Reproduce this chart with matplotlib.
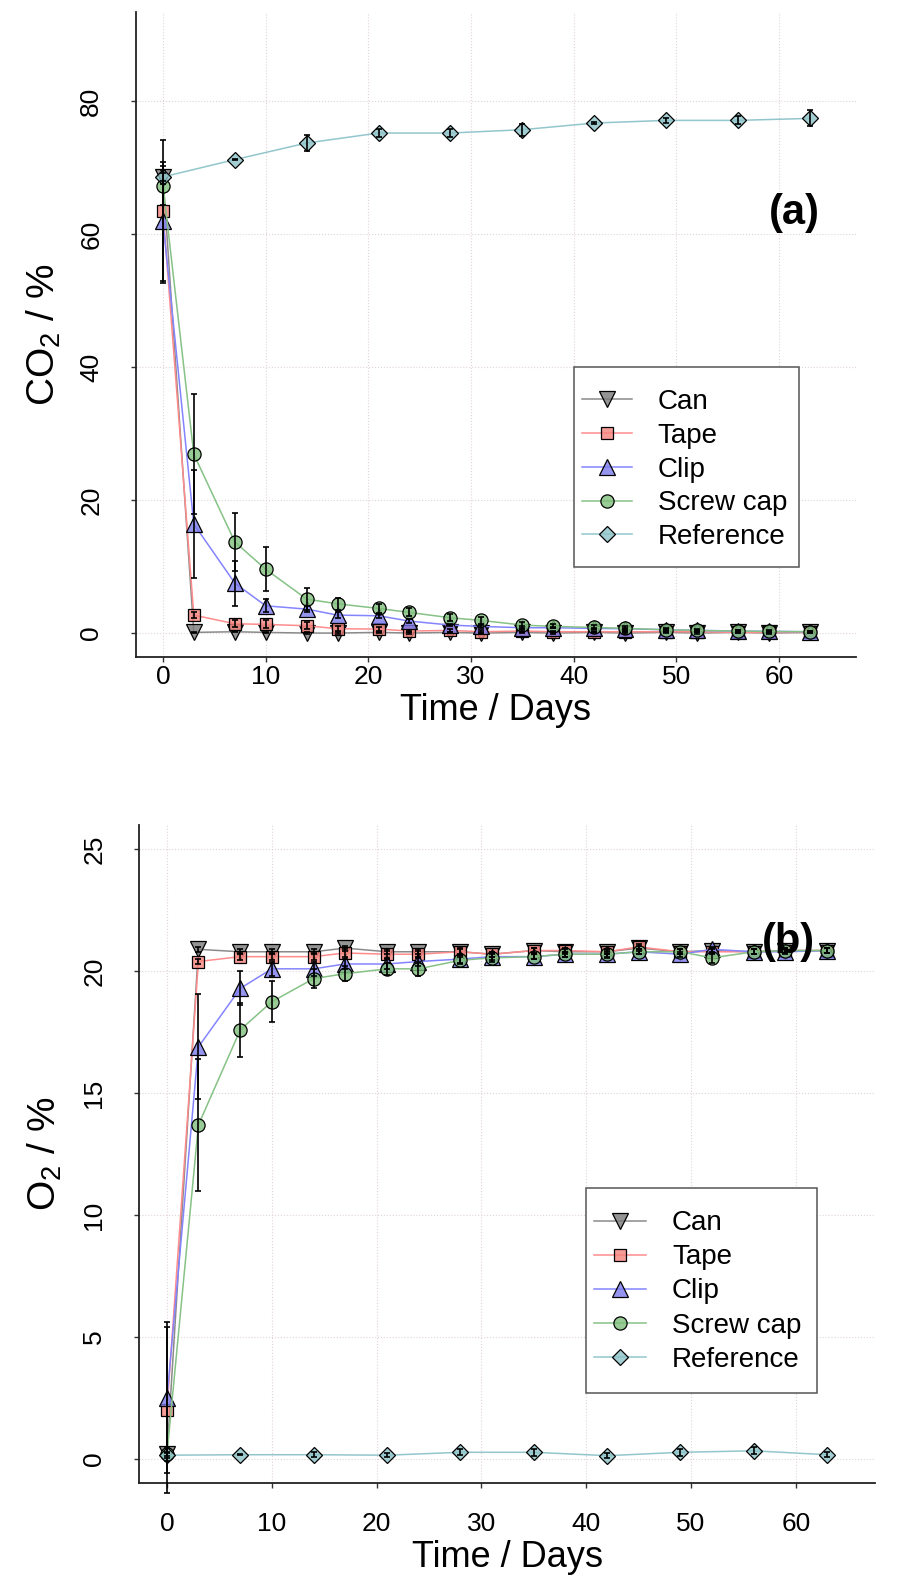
import matplotlib
matplotlib.use('Agg')
import matplotlib.pyplot as plt
import matplotlib.colors as mcolors
from matplotlib.lines import Line2D
from matplotlib.patches import Rectangle
import numpy as np

plt.rcParams['font.family'] = ['Liberation Sans', 'DejaVu Sans']
plt.rcParams['mathtext.fontset'] = 'custom'
plt.rcParams['mathtext.rm'] = 'Liberation Sans'
plt.rcParams['mathtext.it'] = 'Liberation Sans:italic'

# sampling days
days = [0, 3, 7, 10, 14, 17, 21, 24, 28, 31, 35, 38, 42, 45, 49, 52, 56, 59, 63]
ref_days = [0, 7, 14, 21, 28, 35, 42, 49, 56, 63]

labels = ['Can', 'Tape', 'Clip', 'Screw cap', 'Reference']

# (a) CO2 / %
can_co2 = [68.6, 0.1, 0.2, 0.1, 0.0, 0.0, 0.1, 0.0, 0.1, 0.0, 0.1, 0.0, 0.1, 0.0, 0.1, 0.0, 0.1, 0.0, 0.1]
can_co2_err = [1.0, 0.1, 0.1, 0.1, 0.1, 0.1, 0.1, 0.1, 0.1, 0.1, 0.1, 0.1, 0.1, 0.1, 0.1, 0.1, 0.1, 0.1, 0.1]
tape_co2 = [63.4, 2.7, 1.4, 1.3, 1.1, 0.65, 0.6, 0.3, 0.4, 0.2, 0.3, 0.2, 0.2, 0.2, 0.2, 0.2, 0.1, 0.1, 0.1]
tape_co2_err = [10.8, 0.5, 0.5, 0.6, 0.5, 0.4, 0.3, 0.2, 0.2, 0.2, 0.2, 0.1, 0.1, 0.1, 0.1, 0.1, 0.1, 0.1, 0.1]
clip_co2 = [61.9, 16.4, 7.5, 4.1, 3.6, 2.7, 2.6, 1.8, 1.2, 1.0, 0.8, 0.8, 0.7, 0.65, 0.5, 0.4, 0.3, 0.25, 0.2]
clip_co2_err = [9.0, 8.1, 3.4, 1.0, 0.5, 0.4, 0.3, 0.3, 0.2, 0.2, 0.2, 0.1, 0.1, 0.1, 0.1, 0.1, 0.1, 0.1, 0.1]
screw_co2 = [67.3, 26.9, 13.7, 9.6, 5.1, 4.4, 3.7, 3.1, 2.3, 1.9, 1.2, 1.0, 0.85, 0.7, 0.5, 0.4, 0.3, 0.25, 0.2]
screw_co2_err = [2.9, 9.0, 4.4, 3.3, 1.7, 0.9, 0.7, 0.6, 0.5, 0.5, 0.4, 0.3, 0.3, 0.3, 0.2, 0.2, 0.2, 0.2, 0.1]
ref_co2 = [68.6, 71.2, 73.7, 75.2, 75.2, 75.7, 76.7, 77.1, 77.1, 77.4]
ref_co2_err = [0.6, 0.1, 1.2, 0.6, 0.6, 0.9, 0.1, 0.4, 0.6, 1.2]

# (b) O2 / %
can_o2 = [0.2, 20.9, 20.8, 20.8, 20.8, 20.95, 20.8, 20.8, 20.8, 20.7, 20.85, 20.8, 20.8, 20.95, 20.8, 20.85, 20.8, 20.85, 20.85]
can_o2_err = [0.1, 0.1, 0.1, 0.1, 0.1, 0.1, 0.1, 0.1, 0.1, 0.1, 0.1, 0.1, 0.1, 0.1, 0.1, 0.1, 0.1, 0.1, 0.1]
tape_o2 = [2.0, 20.4, 20.6, 20.6, 20.6, 20.75, 20.7, 20.7, 20.8, 20.7, 20.85, 20.85, 20.8, 21.0, 20.8, 20.8, 20.8, 20.85, 20.85]
tape_o2_err = [3.4, 0.1, 0.15, 0.15, 0.15, 0.15, 0.15, 0.15, 0.15, 0.1, 0.1, 0.1, 0.1, 0.1, 0.1, 0.1, 0.1, 0.1, 0.1]
clip_o2 = [2.5, 16.9, 19.3, 20.1, 20.1, 20.3, 20.3, 20.4, 20.5, 20.6, 20.6, 20.7, 20.7, 20.8, 20.7, 20.9, 20.8, 20.8, 20.85]
clip_o2_err = [3.1, 2.15, 0.7, 0.3, 0.3, 0.2, 0.2, 0.2, 0.15, 0.15, 0.1, 0.1, 0.1, 0.1, 0.1, 0.1, 0.1, 0.1, 0.1]
screw_o2 = [0.2, 13.7, 17.6, 18.75, 19.7, 19.9, 20.1, 20.1, 20.45, 20.55, 20.6, 20.7, 20.7, 20.8, 20.8, 20.55, 20.8, 20.85, 20.85]
screw_o2_err = [0.3, 2.7, 1.1, 0.85, 0.4, 0.3, 0.25, 0.3, 0.15, 0.15, 0.1, 0.1, 0.15, 0.1, 0.1, 0.2, 0.1, 0.1, 0.1]
ref_o2 = [0.15, 0.17, 0.17, 0.15, 0.27, 0.27, 0.13, 0.27, 0.33, 0.17]
ref_o2_err = [0.1, 0.02, 0.1, 0.08, 0.12, 0.15, 0.1, 0.15, 0.15, 0.1]

# styles: line colour, face colour, marker, size
styles = {
    'Can': ('#8a8a8a', '#7a7a7a', 'v', 11.5),
    'Tape': ('#ff8c8c', '#f4837d', 's', 8.5),
    'Clip': ('#8484ff', '#7b7bed', '^', 11.5),
    'Screw cap': ('#86c286', '#7fbf7b', 'o', 9.5),
    'Reference': ('#93c6cc', '#8cc3c8', 'D', 7.8),
}


def style_kw(name):
    lc, fc, mk, ms = styles[name]
    return dict(color=lc, lw=1.1, marker=mk, ms=ms,
                mfc=mcolors.to_rgba(fc, 0.8), mec='black', mew=0.9)


def panel(ax, series, xlim, ylim, yticks, ylabel, tag, tag_xy, xpad):
    for name, x, y, e in series:
        ax.plot(x, y, zorder=3, **style_kw(name))
    for name, x, y, e in series:
        ax.errorbar(x, y, yerr=e, fmt='none', ecolor='black', elinewidth=1.2,
                    capsize=2.5, capthick=1.2, zorder=4, clip_on=False)
    ax.set_xlim(*xlim)
    ax.set_ylim(*ylim)
    ax.set_xticks([0, 10, 20, 30, 40, 50, 60])
    ax.set_yticks(yticks)
    ax.grid(True, ls=':', color='#e3d5d5', lw=0.8, zorder=0)
    ax.set_axisbelow(True)
    for s in ['top', 'right']:
        ax.spines[s].set_visible(False)
    for s in ['left', 'bottom']:
        ax.spines[s].set_linewidth(1.3)
        ax.spines[s].set_color('#222222')
    ax.tick_params(axis='both', direction='out', length=3.6, width=1.0,
                   color='#333333', labelsize=19)
    ax.tick_params(axis='y', labelrotation=90, pad=20)
    ax.tick_params(axis='x', pad=xpad)
    for lbl in ax.get_yticklabels():
        lbl.set_va('center')
    ax.set_xlabel('Time / Days', fontsize=26)
    ax.set_ylabel(ylabel, fontsize=28)
    ax.xaxis.label.set_va('center')
    ax.yaxis.label.set_va('center')
    ax.text(tag_xy[0], tag_xy[1], tag, fontsize=30, fontweight='bold',
            ha='center', va='center', zorder=6)


W, H = 898, 1592
fig = plt.figure(figsize=(W / 100, H / 100), dpi=100)

ax1 = fig.add_axes([136 / W, 1 - 657 / H, (856 - 136) / W, (657 - 12) / H])
panel(ax1,
      [('Can', days, can_co2, can_co2_err),
       ('Tape', days, tape_co2, tape_co2_err),
       ('Clip', days, clip_co2, clip_co2_err),
       ('Screw cap', days, screw_co2, screw_co2_err),
       ('Reference', ref_days, ref_co2, ref_co2_err)],
      (-2.63, 67.5), (-3.6, 93.4), [0, 20, 40, 60, 80], 'CO$_2$ / %',
      '(a)', (61.5, 63.1), 2.0)
ax1.xaxis.set_label_coords(0.5, -0.083)
ax1.yaxis.set_label_coords(-0.128, 0.5)

ax2 = fig.add_axes([139 / W, 1 - 1483 / H, (875 - 139) / W, (1483 - 825) / H])
panel(ax2,
      [('Can', days, can_o2, can_o2_err),
       ('Tape', days, tape_o2, tape_o2_err),
       ('Clip', days, clip_o2, clip_o2_err),
       ('Screw cap', days, screw_o2, screw_o2_err),
       ('Reference', ref_days, ref_o2, ref_o2_err)],
      (-2.67, 67.56), (-0.99, 26.0), [0, 5, 10, 15, 20, 25], 'O$_2$ / %',
      '(b)', (59.3, 21.2), 17)
ax2.xaxis.set_label_coords(0.5, -0.1136)
ax2.yaxis.set_label_coords(-0.128, 0.5)

handles = [Line2D([], [], **style_kw(n)) for n in labels]


def legend_box(box, hx, rows, hl, htp, lsp):
    x0, y0, x1, y1 = box
    fig.patches.append(Rectangle((x0 / W, 1 - y1 / H), (x1 - x0) / W, (y1 - y0) / H,
                                 transform=fig.transFigure, facecolor='white',
                                 edgecolor='#555555', lw=1.1, zorder=1))
    fig.legend(handles, labels, loc='center left',
               bbox_to_anchor=(hx / W, 1 - (rows[0] + rows[1]) / 2 / H),
               frameon=False, fontsize=20, borderpad=0, borderaxespad=0,
               handlelength=hl, handletextpad=htp, labelspacing=lsp,
               numpoints=1)


legend_box((574, 367, 799, 567), 582, (402, 537), 1.8, 0.93, 0.28)
legend_box((586, 1188, 817, 1393), 594, (1223, 1360), 1.87, 0.94, 0.29)

fig.savefig('out.png', dpi=100)
